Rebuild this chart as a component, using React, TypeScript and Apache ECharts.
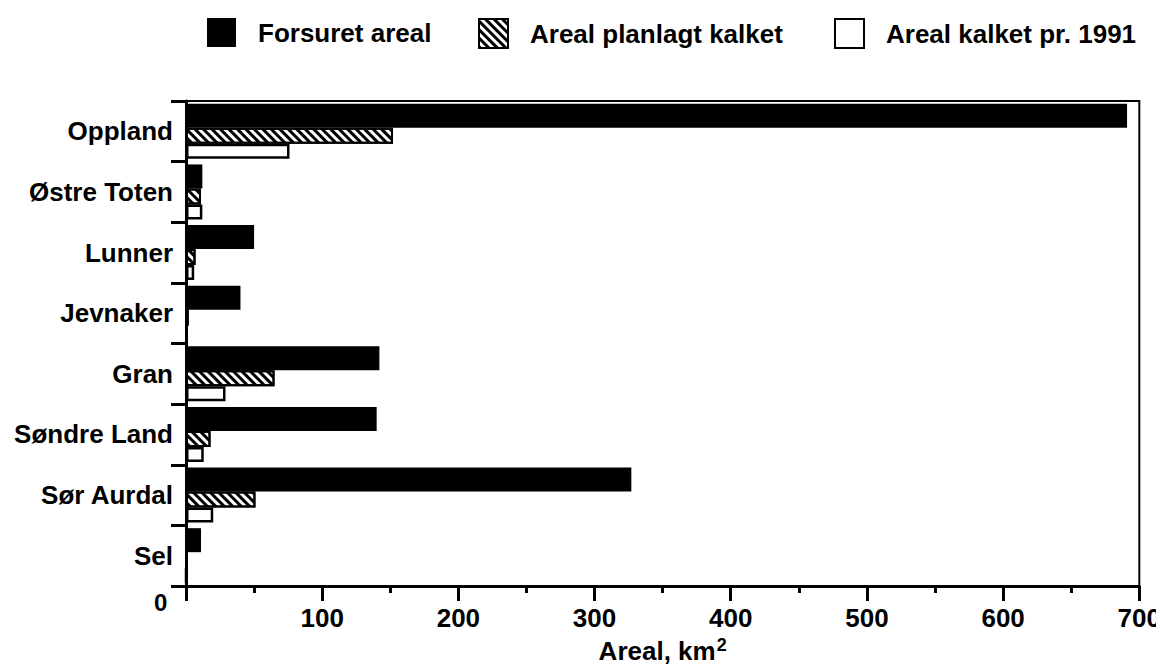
import React, { useEffect, useRef } from "react";
import * as echarts from "echarts";

// Municipalities, listed top to bottom
const categories = [
  "Oppland",
  "Østre Toten",
  "Lunner",
  "Jevnaker",
  "Gran",
  "Søndre Land",
  "Sør Aurdal",
  "Sel",
];

// Areas in km²
const forsuretAreal = [691, 12, 50, 40, 142, 140, 327, 11];
const arealPlanlagtKalket = [152, 11, 7, 2, 65, 18, 51, 0];
const arealKalket1991 = [76, 12, 6, 1, 29, 13, 20, 0];

const seriesNames = ["Forsuret areal", "Areal planlagt kalket", "Areal kalket pr. 1991"];

const xTicks = [0, 100, 200, 300, 400, 500, 600, 700];

const FONT = '"Liberation Sans", Arial, Helvetica, sans-serif';
const WEIGHT = "bold";
const FS = 26;

export default function App() {
  const ref = useRef<HTMLDivElement>(null);

  useEffect(() => {
    if (!ref.current) return;
    const chart = echarts.init(ref.current, null, { renderer: "svg" });

    const hatch = {
      symbol: "rect",
      symbolSize: 1,
      dashArrayX: [1, 0],
      dashArrayY: [3, 3],
      rotation: Math.PI / 4,
      color: "#000",
    };

    const legendBase = {
      top: 13,
      itemWidth: 29,
      itemHeight: 29,
      icon: "rect",
      selectedMode: false,
      textStyle: {
        fontSize: FS,
        fontWeight: WEIGHT,
        color: "#000",
        fontFamily: FONT,
        padding: [0, 0, 6, 17],
      },
    };

    chart.setOption({
      animation: false,
      backgroundColor: "#fff",
      textStyle: { fontFamily: FONT },
      legend: [
        { ...legendBase, left: 202, data: [seriesNames[0]] },
        { ...legendBase, left: 473, data: [seriesNames[1]] },
        { ...legendBase, left: 829, data: [seriesNames[2]] },
      ],
      grid: {
        left: 186,
        right: 24,
        top: 101,
        bottom: 86,
        show: true,
        borderColor: "#000",
        borderWidth: 2,
        backgroundColor: "transparent",
      },
      xAxis: {
        type: "value",
        min: xTicks[0],
        max: xTicks[xTicks.length - 1],
        interval: 100,
        name: "Areal, km{sup|2}",
        nameLocation: "middle",
        nameGap: 50,
        nameTextStyle: {
          fontSize: FS,
          fontWeight: WEIGHT,
          color: "#000",
          fontFamily: FONT,
          rich: {
            sup: {
              fontSize: 18,
              fontWeight: WEIGHT,
              verticalAlign: "top",
              padding: [0, 0, 12, 1],
              color: "#000",
              fontFamily: FONT,
            },
          },
        },
        axisLine: { show: true, lineStyle: { color: "#000", width: 3 } },
        axisTick: { show: true, inside: false, length: 15, lineStyle: { color: "#000", width: 3 } },
        minorTick: { show: true, splitNumber: 2, length: 7, lineStyle: { color: "#000", width: 3 } },
        splitLine: { show: false },
        axisLabel: {
          fontSize: FS,
          fontWeight: WEIGHT,
          color: "#000",
          fontFamily: FONT,
          margin: 19,
          formatter: (v: number) => (v === 0 ? "" : String(v)),
        },
      },
      yAxis: {
        type: "category",
        data: categories,
        inverse: true,
        axisLine: { show: true, lineStyle: { color: "#000", width: 3 } },
        axisTick: { show: true, inside: false, length: 15, lineStyle: { color: "#000", width: 3 } },
        axisLabel: { fontSize: FS, fontWeight: WEIGHT, color: "#000", fontFamily: FONT, margin: 13 },
        splitLine: { show: false },
      },
      graphic: [
        {
          type: "text",
          left: 154,
          top: 590,
          style: { text: "0", fontSize: 24, fontWeight: WEIGHT, fill: "#000", fontFamily: FONT },
        },
      ],
      series: [
        {
          name: seriesNames[0],
          type: "bar",
          data: forsuretAreal,
          barWidth: 24,
          barGap: "0%",
          itemStyle: { color: "#000" },
        },
        {
          name: seriesNames[1],
          type: "bar",
          data: arealPlanlagtKalket,
          barWidth: 16,
          barGap: "0%",
          itemStyle: { color: "#fff", borderColor: "#000", borderWidth: 2, decal: hatch },
        },
        {
          name: seriesNames[2],
          type: "bar",
          data: arealKalket1991,
          barWidth: 15,
          barGap: "0%",
          itemStyle: { color: "#fff", borderColor: "#000", borderWidth: 2.5 },
        },
      ],
    });

    return () => chart.dispose();
  }, []);

  return <div ref={ref} style={{ width: 1164, height: 672, margin: -8 }} />;
}
